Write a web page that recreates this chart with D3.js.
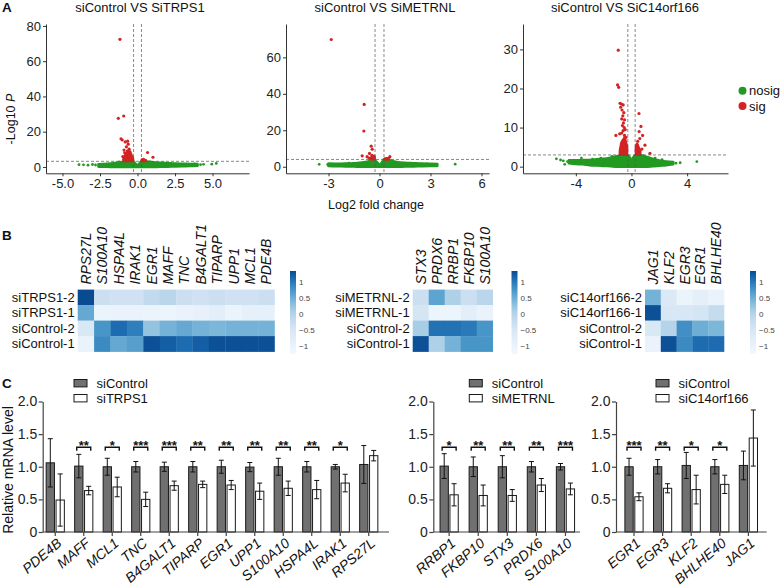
<!DOCTYPE html>
<html><head><meta charset="utf-8">
<script src="https://cdn.jsdelivr.net/npm/d3@7/dist/d3.min.js"></script>
<style>
html,body{margin:0;padding:0;background:#fff;}
svg{display:block;font-family:"Liberation Sans",Arial,Helvetica,sans-serif;}
</style></head>
<body>
<svg id="fig" width="780" height="588"></svg>
<script>
// ================= DATA =================
// ---- A: volcano plots ----
const volcanoTitles = ["siControl VS SiTRPS1", "siControl VS SiMETRNL", "siControl VS SiC14orf166"];
const volcanoYTicks = [[0, 20, 40, 60, 80], [0, 20, 40, 60], [0, 10, 20, 30]];
const volcanoXTicks = [[-5, -2.5, 0, 2.5, 5], [-3, 0, 3, 6], [-4, 0, 4]];
const volcanoXTickLabels = [["-5.0", "-2.5", "0.0", "2.5", "5.0"], ["-3", "0", "3", "6"], ["-4", "0", "4"]];
const volcanoPThreshold = [3.2, 4.0, 3.0];
const volcanoFcThreshold = 0.263;
const volcanoLegend = ["nosig", "sig"];

// [log2FC, low -log10P, high -log10P] envelopes of the dense non-significant cloud
const trps1NosigBand = [[-2.6,0.2,1.5],[-2.0,0.1,1.8],[-1.5,0,2.2],[-1.0,0,2.7],[-0.7,0,3.2],[-0.3,0,3.2],[-0.15,0,2.0],[0,0,1.0],[0.15,0,2.2],[0.3,0,3.5],[0.6,0,3.0],[1.0,0,2.7],[1.5,0.1,2.3],[2.0,0.2,2.1],[2.5,0.3,1.9],[3.0,0.4,1.8],[3.5,0.5,1.7],[4.0,0.7,1.6]];
const trps1Nosig = [[-3.9,1.3],[-3.6,1.2],[-3.3,1.0],[-3.0,1.4],[-2.8,1.1],[-2.5,0.6],[-1.2,2.8],[0.8,3.0],[3.8,1.8],[4.2,1.3],[4.4,1.5],[4.95,1.6],[5.25,2.0]];
const trps1SigBandL = [[-0.95,3.2,4.5],[-0.85,3.2,6.5],[-0.72,3.2,8.0],[-0.6,3.2,9.0],[-0.48,3.2,8.0],[-0.38,3.2,6.5],[-0.28,3.2,4.5]];
const trps1SigBandR = [[0.28,3.2,3.9],[0.4,3.2,4.4],[0.55,3.2,3.8]];
const trps1Sig = [[-1.17,72.4],[-1.28,27.6],[-0.92,28.9],[-1.1,16.0],[-1.02,15.3],[-0.82,14.2],[-0.66,14.6],[-0.62,12.9],[-0.74,11.4],[-0.56,10.1],[-0.9,9.6],[-0.98,5.9],[-0.76,6.4],[-0.85,8.0],[-0.68,9.0],[-0.5,8.6],[-0.45,7.5],[-0.6,7.0],[-0.35,5.5],[-0.4,4.5],[-0.7,4.8],[-0.9,4.2],[0.67,8.2],[1.03,5.5],[0.3,4.0],[0.45,3.7],[0.38,4.3],[0.55,3.6]];

const metrnlNosigBand = [[-3.0,0.4,1.7],[-2.5,0.3,1.6],[-2.0,0.2,1.7],[-1.5,0.1,1.9],[-1.0,0,2.3],[-0.6,0,3.0],[-0.35,0,4.0],[-0.15,0,2.5],[0,0,1.0],[0.15,0,2.5],[0.3,0,4.5],[0.6,0,3.5],[1.0,0,2.6],[1.5,0.1,2.1],[2.0,0.2,1.9],[2.5,0.3,1.7],[3.0,0.4,1.6],[3.4,0.5,1.5]];
const metrnlNosig = [[-3.55,1.3],[-3.05,1.2],[-2.7,1.4],[-1.8,1.9],[2.8,1.5],[3.3,1.0],[4.45,1.4]];
const metrnlSigBandL = [[-0.55,4.0,4.6],[-0.45,4.0,5.6],[-0.35,4.0,6.0],[-0.28,4.0,5.0]];
const metrnlSigBandR = [[0.35,4.0,4.3],[0.45,4.0,4.8],[0.55,4.0,4.4]];
const metrnlSig = [[-2.84,69.8],[-0.9,34.2],[-0.92,19.6],[-0.49,11.3],[-0.43,9.6],[-0.59,7.3],[-1.02,6.0],[-0.73,5.5],[-0.45,6.2],[-0.38,5.2],[-0.32,5.8],[-0.42,4.6],[-0.35,4.4],[-0.3,4.9],[-0.52,4.5],[-0.62,4.8],[0.61,5.5],[0.53,4.6],[0.45,4.3],[0.35,4.2]];

const c14NosigBand = [[-4.5,0.9,1.6],[-4.0,0.7,1.6],[-3.5,0.6,1.7],[-3.0,0.4,1.7],[-2.5,0.3,1.9],[-2.0,0.2,2.0],[-1.5,0.1,2.3],[-1.0,0,2.7],[-0.6,0,3.0],[-0.3,0,3.0],[-0.1,0,2.2],[0,0,1.5],[0.1,0,2.2],[0.3,0,3.0],[0.6,0,3.0],[1.0,0,2.6],[1.5,0.1,2.0],[2.0,0.25,1.6],[2.5,0.4,1.3],[3.0,0.6,1.2]];
const c14Nosig = [[-5.4,2.0],[-5.1,1.7],[-4.9,1.5],[-4.6,1.3],[-4.8,0.6],[-4.3,1.4],[-3.9,1.1],[-3.6,2.2],[-3.2,1.2],[-2.8,1.9],[-2.6,0.9],[-2.2,2.2],[-1.9,1.4],[-1.4,2.6],[1.7,2.2],[2.2,1.8],[2.7,0.8],[3.2,0.9],[3.5,1.0],[4.7,1.3]];
const c14SigBandL = [[-0.85,3.0,4.0],[-0.75,3.0,6.0],[-0.6,3.0,7.0],[-0.5,3.0,7.5],[-0.4,3.0,6.5],[-0.3,3.0,5.0]];
const c14SigBandR = [[0.3,3.0,5.0],[0.4,3.0,6.0],[0.5,3.0,5.2],[0.65,3.0,4.0]];
const c14Sig = [[-0.95,29.8],[-1.0,20.9],[-0.92,20.3],[-0.82,16.2],[-0.72,16.0],[-0.6,15.8],[-0.78,15.2],[-0.68,14.5],[-0.55,13.8],[-0.62,13.0],[-0.7,12.2],[-0.5,12.0],[-0.58,11.2],[-0.65,10.5],[-0.52,10.0],[-0.45,9.5],[-0.6,9.2],[-0.7,8.6],[-1.12,8.0],[-0.85,8.4],[-0.5,8.0],[-0.4,7.5],[0.54,13.6],[0.68,10.3],[0.55,9.0],[0.8,8.0],[0.6,7.2],[0.97,5.5],[0.45,6.5],[0.4,5.5],[1.33,3.4],[0.75,4.5]];

// ---- B: heatmaps (row z-scores) ----
const hm1Genes = ["RPS27L","S100A10","HSPA4L","IRAK1","EGR1","MAFF","TNC","B4GALT1","TIPARP","UPP1","MCL1","PDE4B"];
const hm1Samples = ["siTRPS1-2","siTRPS1-1","siControl-2","siControl-1"];
const hm1Values = [
  [1.4,-0.3,-0.35,-0.35,-0.15,-0.05,-0.3,-0.35,-0.3,-0.35,-0.35,-0.3],
  [0.55,-1.05,-1.0,-1.0,-1.05,-1.1,-1.0,-0.95,-0.8,-1.05,-0.9,-0.9],
  [-0.55,0.75,1.1,0.95,0.25,0.45,0.55,0.45,0.4,0.45,0.45,0.45],
  [-1.0,0.85,0.55,0.65,1.3,1.2,1.1,1.2,1.3,1.3,1.3,1.3]
];
const hm2Genes = ["STX3","PRDX6","RRBP1","FKBP10","S100A10"];
const hm2Samples = ["siMETRNL-2","siMETRNL-1","siControl-2","siControl-1"];
const hm2Values = [
  [-0.3,0.6,0.05,-0.3,-0.05],
  [-0.45,-1.1,-1.1,-0.8,-1.0],
  [0.1,1.05,1.05,1.0,0.75],
  [1.3,0.05,0.45,0.75,0.75]
];
const hm3Genes = ["JAG1","KLF2","EGR3","EGR1","BHLHE40"];
const hm3Samples = ["siC14orf166-2","siC14orf166-1","siControl-2","siControl-1"];
const hm3Values = [
  [0.45,-0.6,-1.05,-0.85,-1.0],
  [1.3,-0.5,-0.5,-0.45,-0.2],
  [-0.55,0.0,0.8,0.5,0.4],
  [-1.0,1.3,0.85,1.1,1.1]
];
const colorbarTicks = [1, 0.5, 0, -0.5, -1];
const colorbarTickLabels = ["1", "0.5", "0", "\u22120.5", "\u22121"];

// ---- C: qPCR bar charts ----
const qYTicks = [0, 0.5, 1, 1.5, 2];
const qYTickLabels = ["0", "0.5", "1.0", "1.5", "2.0"];
const qTrpsGenes = ["PDE4B","MAFF","MCL1","TNC","B4GALT1","TIPARP","EGR1","UPP1","S100A10","HSPA4L","IRAK1","RPS27L"];
const qTrpsCtrl   = [1.06,1.01,1.0,1.0,1.0,1.0,1.0,0.995,1.0,1.0,1.0,1.035];
const qTrpsCtrlSD = [0.37,0.18,0.13,0.08,0.07,0.08,0.1,0.07,0.13,0.08,0.035,0.29];
const qTrpsKD     = [0.49,0.635,0.69,0.5,0.71,0.73,0.72,0.625,0.67,0.65,0.75,1.17];
const qTrpsKDSD   = [0.4,0.065,0.15,0.11,0.07,0.05,0.07,0.125,0.11,0.14,0.135,0.08];
const qTrpsSig    = ["","**","*","***","***","**","**","**","**","**","*",""];

const qMetGenes  = ["RRBP1","FKBP10","STX3","PRDX6","S100A10"];
const qMetCtrl   = [1.01,1.0,1.0,1.0,1.0];
const qMetCtrlSD = [0.19,0.15,0.17,0.08,0.05];
const qMetKD     = [0.57,0.56,0.56,0.72,0.66];
const qMetKDSD   = [0.17,0.16,0.09,0.1,0.09];
const qMetSig    = ["*","**","**","**","***"];

const qC14Genes  = ["EGR1","EGR3","KLF2","BHLHE40","JAG1"];
const qC14Ctrl   = [1.0,1.0,1.02,1.0,1.02];
const qC14CtrlSD = [0.13,0.11,0.2,0.11,0.22];
const qC14KD     = [0.54,0.67,0.65,0.73,1.44];
const qC14KDSD   = [0.06,0.07,0.22,0.14,0.43];
const qC14Sig    = ["***","**","*","*",""];

// ================= DRAWING =================
const FONT = '"Liberation Sans", Arial, Helvetica, sans-serif';
const svg = d3.select("#fig");
const GREEN = "#229a22", RED = "#d42222", AXIS = "#333";

function panelLabel(t, x, y) {
  svg.append("text").attr("x", x).attr("y", y).attr("font-size", 13.5)
    .attr("font-weight", "bold").attr("fill", "#111").text(t);
}
panelLabel("A", 2, 12);
panelLabel("B", 2, 240);
panelLabel("C", 2, 388);

// ---- A ----
const vCfg = [
  {title: volcanoTitles[0], titleX: 140, x0: 46, x1: 249, xd: [-6.1, 7.43], yd: [-3.6, 81.1],
   band: trps1NosigBand, nosig: trps1Nosig, sigBands: [trps1SigBandL, trps1SigBandR], sig: trps1Sig},
  {title: volcanoTitles[1], titleX: 385, x0: 286, x1: 489, xd: [-5.5, 6.44], yd: [-3.6, 78.3],
   band: metrnlNosigBand, nosig: metrnlNosig, sigBands: [metrnlSigBandL, metrnlSigBandR], sig: metrnlSig},
  {title: volcanoTitles[2], titleX: 625, x0: 523, x1: 728, xd: [-7.8, 6.94], yd: [-1.7, 36.5],
   band: c14NosigBand, nosig: c14Nosig, sigBands: [c14SigBandL, c14SigBandR], sig: c14Sig}
];
const vTop = 24, vBot = 173.3;
vCfg.forEach((p, k) => {
  const g = svg.append("g");
  const x = d3.scaleLinear().domain(p.xd).range([p.x0, p.x1]);
  const y = d3.scaleLinear().domain(p.yd).range([vBot, vTop]);
  const area = d3.area().x(d => x(d[0])).y0(d => y(d[1])).y1(d => y(d[2])).curve(d3.curveMonotoneX);
  g.append("path").datum(p.band).attr("d", area).attr("fill", GREEN).attr("stroke", GREEN)
    .attr("stroke-width", 2.6).attr("stroke-linejoin", "round");
  g.selectAll(".ns").data(p.nosig).join("circle").attr("cx", d => x(d[0])).attr("cy", d => y(d[1]))
    .attr("r", 1.4).attr("fill", GREEN);
  p.sigBands.forEach(b => {
    g.append("path").datum(b).attr("d", area).attr("fill", RED).attr("stroke", RED)
      .attr("stroke-width", 2).attr("stroke-linejoin", "round");
  });
  g.selectAll(".s").data(p.sig).join("circle").attr("cx", d => x(d[0])).attr("cy", d => y(d[1]))
    .attr("r", 1.6).attr("fill", RED);
  // threshold lines
  const dash = "3,2";
  [-volcanoFcThreshold, volcanoFcThreshold].forEach(v => {
    g.append("line").attr("x1", x(v)).attr("x2", x(v)).attr("y1", vTop).attr("y2", vBot)
      .attr("stroke", "#555").attr("stroke-width", 0.7).attr("stroke-dasharray", dash);
  });
  g.append("line").attr("x1", p.x0).attr("x2", p.x1).attr("y1", y(volcanoPThreshold[k])).attr("y2", y(volcanoPThreshold[k]))
    .attr("stroke", "#555").attr("stroke-width", 0.7).attr("stroke-dasharray", dash);
  // axes
  const ya = g.append("g").attr("transform", `translate(${p.x0},0)`)
    .call(d3.axisLeft(y).tickValues(volcanoYTicks[k]).tickSize(3).tickSizeOuter(0).tickPadding(2));
  const xa = g.append("g").attr("transform", `translate(0,${vBot})`)
    .call(d3.axisBottom(x).tickValues(volcanoXTicks[k]).tickFormat((d, i) => volcanoXTickLabels[k][i])
      .tickSize(3).tickSizeOuter(0).tickPadding(2));
  [ya, xa].forEach(a => {
    a.attr("font-family", FONT).attr("font-size", 13);
    a.selectAll("path,line").attr("stroke", AXIS);
    a.selectAll("text").attr("fill", "#222");
  });
  g.append("text").attr("x", p.titleX).attr("y", 12).attr("text-anchor", "middle")
    .attr("font-size", 13).attr("fill", "#111").text(p.title);
});
// y label
const ylab = svg.append("text").attr("transform", "translate(15,119) rotate(-90)")
  .attr("text-anchor", "middle").attr("font-size", 12.5).attr("fill", "#111");
ylab.append("tspan").text("-Log10 ");
ylab.append("tspan").attr("font-style", "italic").text("P");
svg.append("text").attr("x", 376).attr("y", 209).attr("text-anchor", "middle")
  .attr("font-size", 12.5).attr("fill", "#111").text("Log2 fold change");
// legend
[GREEN, RED].forEach((col, i) => {
  svg.append("circle").attr("cx", 742.5).attr("cy", 90.7 + i * 15.3).attr("r", 4).attr("fill", col);
  svg.append("text").attr("x", 749).attr("y", 90.7 + i * 15.3).attr("dy", "0.35em")
    .attr("font-size", 13).attr("fill", "#111").text(volcanoLegend[i]);
});

// ---- B ----
const hmT = d3.scaleLinear().domain([-1.25, -0.5, 0, 0.5, 1, 1.34]).range([0.02, 0.16, 0.3, 0.5, 0.72, 0.9]).clamp(true);
const hmColor = v => d3.interpolateBlues(hmT(v));
const cbTop = 271, cbBot = 354;
const cbScale = d3.scaleLinear().domain([-1.25, 1.34]).range([cbBot, cbTop]);
function heatmap(id, genes, samples, values, left, cw, cbX) {
  const top = 289.6, rh = 15.5;
  const g = svg.append("g");
  const x = d3.scaleBand().domain(genes).range([left, left + cw * genes.length]);
  const y = d3.scaleBand().domain(samples).range([top, top + rh * samples.length]);
  values.forEach((row, r) => {
    g.selectAll(null).data(row).join("rect")
      .attr("x", (d, c) => x(genes[c])).attr("y", y(samples[r]))
      .attr("width", x.bandwidth() + 0.3).attr("height", y.bandwidth() + 0.3)
      .attr("fill", d => hmColor(d));
  });
  g.selectAll(".rl").data(samples).join("text")
    .attr("x", left - 3).attr("y", d => y(d) + y.bandwidth() / 2).attr("dy", "0.35em")
    .attr("text-anchor", "end").attr("font-size", 13).attr("fill", "#111").text(d => d);
  g.selectAll(".cl").data(genes).join("text")
    .attr("transform", d => `translate(${x(d) + x.bandwidth() / 2 + 5},${top - 5}) rotate(-90)`)
    .attr("font-size", 14).attr("font-style", "italic").attr("fill", "#111").text(d => d);
  // colorbar
  const grad = svg.append("defs").append("linearGradient").attr("id", id)
    .attr("x1", 0).attr("y1", 1).attr("x2", 0).attr("y2", 0);
  d3.range(0, 1.0001, 0.05).forEach(t => {
    const v = -1.25 + t * (1.34 + 1.25);
    grad.append("stop").attr("offset", t).attr("stop-color", hmColor(v));
  });
  g.append("rect").attr("x", cbX).attr("y", cbTop).attr("width", 6).attr("height", cbBot - cbTop)
    .attr("fill", `url(#${id})`);
  g.selectAll(".cb").data(colorbarTicks).join("text")
    .attr("x", cbX + 9).attr("y", d => cbScale(d)).attr("dy", "0.35em")
    .attr("font-size", 8).attr("fill", "#444").text((d, i) => colorbarTickLabels[i]);
}
heatmap("g1", hm1Genes, hm1Samples, hm1Values, 77.7, 16.4, 290);
heatmap("g2", hm2Genes, hm2Samples, hm2Values, 412.7, 16, 511.5);
heatmap("g3", hm3Genes, hm3Samples, hm3Values, 645, 15.8, 750);

// ---- C ----
const qY = d3.scaleLinear().domain([0, 2]).range([532, 401.5]);
function bars(cfg) {
  const g = svg.append("g");
  const x = d3.scaleBand().domain(cfg.genes).range(cfg.range);
  const cx = d => x(d) + x.bandwidth() / 2;
  const bw = 8.3, gap = 0.8;
  g.selectAll(".ctrl").data(cfg.genes).join("rect")
    .attr("x", d => cx(d) - gap - bw).attr("y", (d, i) => qY(cfg.ctrl[i]))
    .attr("width", bw).attr("height", (d, i) => qY(0) - qY(cfg.ctrl[i]))
    .attr("fill", "#707070").attr("stroke", "#1a1a1a").attr("stroke-width", 1);
  g.selectAll(".kd").data(cfg.genes).join("rect")
    .attr("x", d => cx(d) + gap).attr("y", (d, i) => qY(cfg.kd[i]))
    .attr("width", bw).attr("height", (d, i) => qY(0) - qY(cfg.kd[i]))
    .attr("fill", "#fff").attr("stroke", "#1a1a1a").attr("stroke-width", 1);
  const eb = (xc, m, sd) => {
    const p = d3.path();
    p.moveTo(xc, qY(m - sd)); p.lineTo(xc, qY(m + sd));
    p.moveTo(xc - 2.5, qY(m + sd)); p.lineTo(xc + 2.5, qY(m + sd));
    p.moveTo(xc - 2.5, qY(m - sd)); p.lineTo(xc + 2.5, qY(m - sd));
    return p.toString();
  };
  cfg.genes.forEach((gname, i) => {
    g.append("path").attr("d", eb(cx(gname) - gap - bw / 2, cfg.ctrl[i], cfg.ctrlSD[i]))
      .attr("stroke", "#111").attr("stroke-width", 1).attr("fill", "none");
    g.append("path").attr("d", eb(cx(gname) + gap + bw / 2, cfg.kd[i], cfg.kdSD[i]))
      .attr("stroke", "#111").attr("stroke-width", 1).attr("fill", "none");
    if (cfg.sig[i]) {
      const by = qY(1.3), c = cx(gname);
      g.append("path").attr("d", `M${c - 7},${by + 3.5}V${by}H${c + 7}V${by + 3.5}`)
        .attr("stroke", "#111").attr("stroke-width", 1.4).attr("fill", "none");
      g.append("text").attr("x", c).attr("y", by + 3).attr("text-anchor", "middle")
        .attr("font-size", 13).attr("font-weight", "bold").attr("fill", "#111").text(cfg.sig[i]);
    }
  });
  const ya = g.append("g").attr("transform", `translate(${cfg.axisX},0)`)
    .call(d3.axisLeft(qY).tickValues(qYTicks).tickFormat((d, i) => qYTickLabels[i]).tickSize(4).tickSizeOuter(0).tickPadding(1.5));
  ya.attr("font-family", FONT).attr("font-size", 14);
  ya.selectAll("path,line").attr("stroke", "#444").attr("stroke-width", 1.2);
  ya.selectAll("text").attr("fill", "#222");
  g.append("line").attr("x1", cfg.axisX).attr("x2", cfg.axisEnd).attr("y1", qY(0)).attr("y2", qY(0))
    .attr("stroke", "#444").attr("stroke-width", 1.2);
  g.selectAll(".xt").data(cfg.genes).join("line")
    .attr("x1", cx).attr("x2", cx).attr("y1", qY(0)).attr("y2", qY(0) + 4)
    .attr("stroke", "#444").attr("stroke-width", 1.2);
  g.selectAll(".xl").data(cfg.genes).join("text")
    .attr("transform", d => `translate(${cx(d) + 1},${qY(0) + 5}) rotate(-40)`)
    .attr("dy", "0.71em").attr("text-anchor", "end").attr("font-size", 14)
    .attr("font-style", "italic").attr("fill", "#111").text(d => d);
  const labels = ["siControl", cfg.kdLabel];
  labels.forEach((t, i) => {
    const yy = 383.2 + i * 15;
    g.append("rect").attr("x", cfg.legX).attr("y", yy - 3.7).attr("width", 13).attr("height", 7.4)
      .attr("fill", i === 0 ? "#707070" : "#fff").attr("stroke", "#1a1a1a").attr("stroke-width", 1);
    g.append("text").attr("x", cfg.legX + 22.5).attr("y", yy).attr("dy", "0.35em")
      .attr("font-size", 13).attr("fill", "#111").text(t);
  });
}
bars({genes: qTrpsGenes, ctrl: qTrpsCtrl, ctrlSD: qTrpsCtrlSD, kd: qTrpsKD, kdSD: qTrpsKDSD, sig: qTrpsSig,
  range: [41, 383], axisX: 42.7, axisEnd: 389, legX: 74, kdLabel: "siTRPS1"});
bars({genes: qMetGenes, ctrl: qMetCtrl, ctrlSD: qMetCtrlSD, kd: qMetKD, kdSD: qMetKDSD, sig: qMetSig,
  range: [434.6, 580], axisX: 433.3, axisEnd: 580, legX: 469.3, kdLabel: "siMETRNL"});
bars({genes: qC14Genes, ctrl: qC14Ctrl, ctrlSD: qC14CtrlSD, kd: qC14KD, kdSD: qC14KDSD, sig: qC14Sig,
  range: [619.7, 762.7], axisX: 616, axisEnd: 766.7, legX: 656, kdLabel: "siC14orf166"});
svg.append("text").attr("transform", "translate(13,470) rotate(-90)").attr("text-anchor", "middle")
  .attr("font-size", 14).attr("fill", "#111").text("Relative mRNA level");
</script>
</body></html>
